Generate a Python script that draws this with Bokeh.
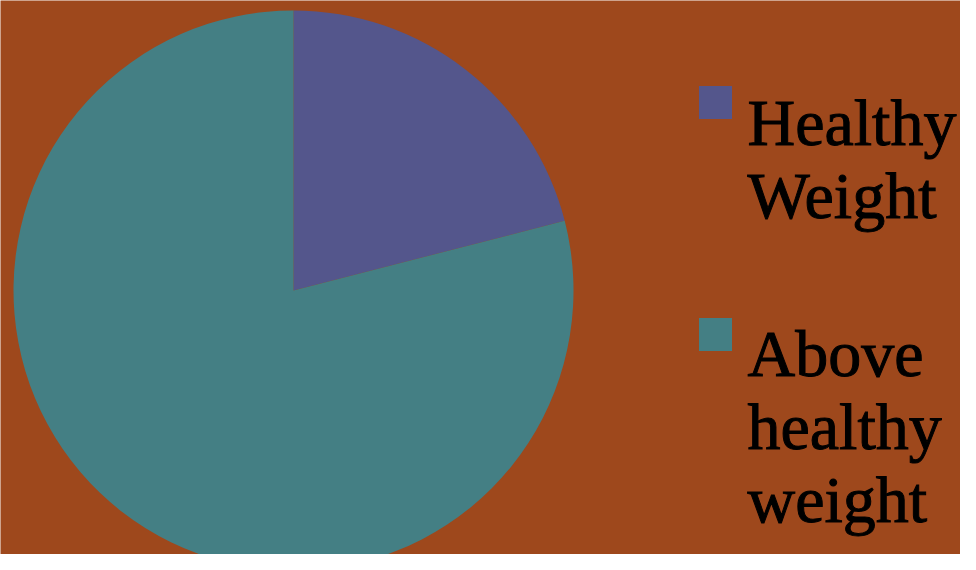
import math
from bokeh.plotting import figure
from bokeh.models import ColumnDataSource, Range1d
from bokeh.core.properties import value
from bokeh.embed import file_html
from bokeh.resources import INLINE

categories = ["Healthy\nWeight", "Above\nhealthy\nweight"]
shares = [21, 79]
colors = ["#54568c", "#447f84"]

W, H = 960, 554
p = figure(width=W, height=H, output_backend="svg", toolbar_location=None,
           x_range=Range1d(0, W), y_range=Range1d(0, H), min_border=0,
           background_fill_color="#9e481c", border_fill_color="#9e481c",
           outline_line_color=None)
p.axis.visible = False
p.grid.visible = False

total = sum(shares)
starts, ends = [], []
acc = 0.0
for s in shares:
    starts.append(math.pi / 2 - 2 * math.pi * acc / total)
    acc += s
    ends.append(math.pi / 2 - 2 * math.pi * acc / total)

src = ColumnDataSource(dict(start=starts, end=ends, color=colors, label=categories))
p.wedge(x=293, y=H - 290, radius=280, radius_units="screen",
        start_angle="start", end_angle="end", direction="clock",
        fill_color="color", line_color=None, source=src)

# legend
sq_y = [H - 102, H - 334]
base_y = [H - 122, H - 353]
line_h = 73
for i, lab in enumerate(categories):
    p.rect(x=715, y=sq_y[i], width=33, height=33, width_units="screen",
           height_units="screen", fill_color=colors[i], line_color=None)
    lines = lab.split("\n")
    xs = [747] * len(lines)
    ys = [base_y[i] - k * line_h for k in range(len(lines))]
    p.text(x=xs, y=ys, text=lines, text_font=value("Liberation Serif"),
           text_font_size="66px", text_color="#000000",
           text_outline_color="#000000",
           text_baseline="alphabetic", text_align="left")

open("out.html", "w").write(file_html(p, INLINE))
